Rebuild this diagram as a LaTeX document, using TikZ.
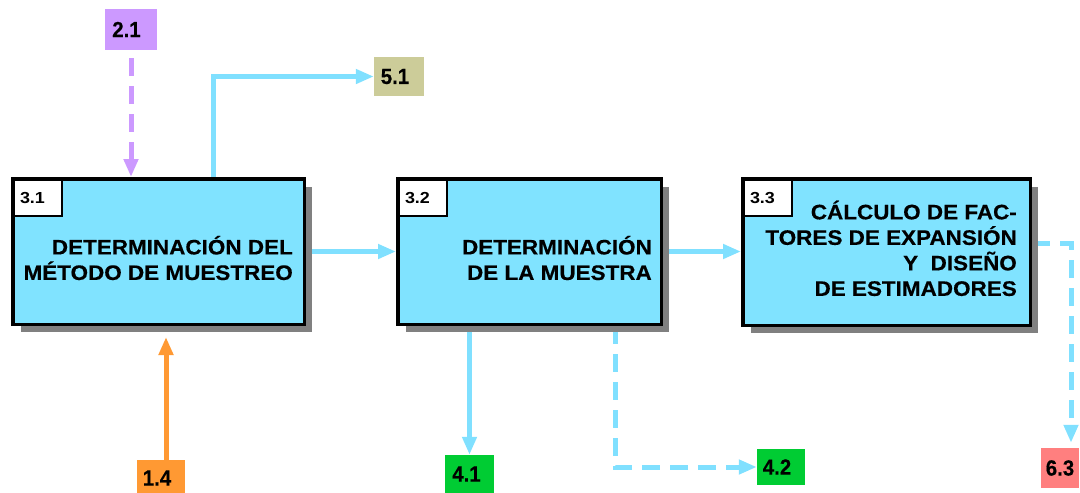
\documentclass[tikz,border=0pt]{standalone}
\usepackage{fontspec}
\setmainfont{Liberation Sans}
\newfontfamily\boxfont[FakeStretch=1.07,FakeBold=0.4]{Liberation Sans}
\newfontfamily\idfont[FakeStretch=1.12]{Liberation Sans}
\newfontfamily\extfont[FakeStretch=0.93,FakeBold=0.4]{Liberation Sans}
\usetikzlibrary{arrows.meta,shadows,calc}
\definecolor{cyanline}{HTML}{80E0FF}
\definecolor{boxfill}{HTML}{80E3FF}
\definecolor{shadowgray}{HTML}{808080}
\definecolor{purplec}{HTML}{CC99FF}
\definecolor{khakic}{HTML}{CCCC99}
\definecolor{orangec}{HTML}{FF9933}
\definecolor{greenc}{HTML}{00CC33}
\definecolor{redc}{HTML}{FF7F7F}
\pgfdeclarelayer{bg}
\pgfsetlayers{bg,main}
\begin{document}
\begin{tikzpicture}[x=1pt,y=-1pt,
  procbox/.style={draw=black, line width=3.5pt, fill=boxfill, rectangle, inner sep=0pt,
    drop shadow={shadow xshift=8pt, shadow yshift=-8pt, fill=shadowgray, opacity=1}},
  idbox/.style={draw=black, line width=2pt, fill=white, rectangle, minimum width=48pt,
    minimum height=36pt, inner xsep=6pt, inner ysep=0pt, text width=36pt, align=left,
    font=\idfont\bfseries\fontsize{16}{18}\selectfont},
  boxtext/.style={inner sep=0pt, align=right,
    font=\boxfont\bfseries\fontsize{21}{25.5}\selectfont},
  extbox/.style={rectangle, inner sep=0pt, font=\extfont\bfseries\fontsize{22}{24}\selectfont},
  flow/.style={draw=cyanline, line width=5pt, -{Triangle[length=18pt,width=14pt]}},
  dflow/.style={flow, dash pattern=on 18pt off 10pt},
]
\useasboundingbox (0,0) rectangle (1080,493);

% process boxes
\node[procbox, minimum width=291.5pt, minimum height=145.5pt] (p31) at (158.5,251.5) {};
\node[idbox, anchor=north west] (i31) at ($(p31.north west)+(2,2)$) {3.1};
\node[boxtext, anchor=east] (t31) at (293,258) {DETERMINACIÓN DEL\\MÉTODO DE MUESTREO};

\node[procbox, minimum width=263.5pt, minimum height=145.5pt] (p32) at (529.5,251.5) {};
\node[idbox, anchor=north west] (i32) at ($(p32.north west)+(2,2)$) {3.2};
\node[boxtext, anchor=east] (t32) at (652,258) {DETERMINACIÓN\\DE LA MUESTRA};

\node[procbox, minimum width=287.5pt, minimum height=146.5pt] (p33) at (886.5,252) {};
\node[idbox, anchor=north west] (i33) at ($(p33.north west)+(2,2)$) {3.3};
\node[boxtext, anchor=east] (t33) at (1017,248.4) {CÁLCULO DE FAC-\\TORES DE EXPANSIÓN\\Y\ \ DISEÑO\\DE ESTIMADORES};

% external references
\node[extbox, fill=purplec, minimum width=52pt, minimum height=41pt] (l21) at (131,29.5) {2.1\kern9pt};
\node[extbox, fill=khakic, minimum width=50pt, minimum height=39pt] (l51) at (399,76.5) {5.1\kern8pt};
\node[extbox, fill=orangec, minimum width=48pt, minimum height=36pt] (l14) at (161,478) {1.4\kern8pt};
\node[extbox, fill=greenc, minimum width=49pt, minimum height=38pt] (l41) at (469.5,474) {4.1\kern6pt};
\node[extbox, fill=greenc, minimum width=48pt, minimum height=36pt] (l42) at (781,467) {4.2\kern8pt};
\node[extbox, fill=redc, minimum width=38pt, minimum height=40pt] (l63) at (1060,468) {6.3};

\coordinate (c51) at (213,0);
\coordinate (c14) at (166,0);
\coordinate (c42) at (615,0);
\coordinate (c63) at (1071,243);

\begin{pgfonlayer}{bg}
  \draw[flow, draw=purplec, dash pattern=on 18pt off 10pt, shorten <=8pt]
    (l21.south) -- (l21.south |- p31.north);
  \draw[flow] (c51 |- p31.north) -- (c51 |- l51.west) -- (l51.west);
  \draw[flow, draw=orangec, shorten >=11pt] (c14 |- l14.north) -- (c14 |- p31.south);
  \draw[flow] (p31.east) -- (p32.west);
  \draw[flow] (p32.east) -- (p32.east -| p33.west);
  \draw[flow] (l41.north |- p32.south) -- (l41.north);
  \draw[dflow] (c42 |- p32.south) -- (c42 |- l42.west) -- (l42.west);
  \draw[dflow, shorten >=5pt] (c63 -| p33.east) -- (c63) -- (c63 |- l63.north);
\end{pgfonlayer}
\end{tikzpicture}
\end{document}
